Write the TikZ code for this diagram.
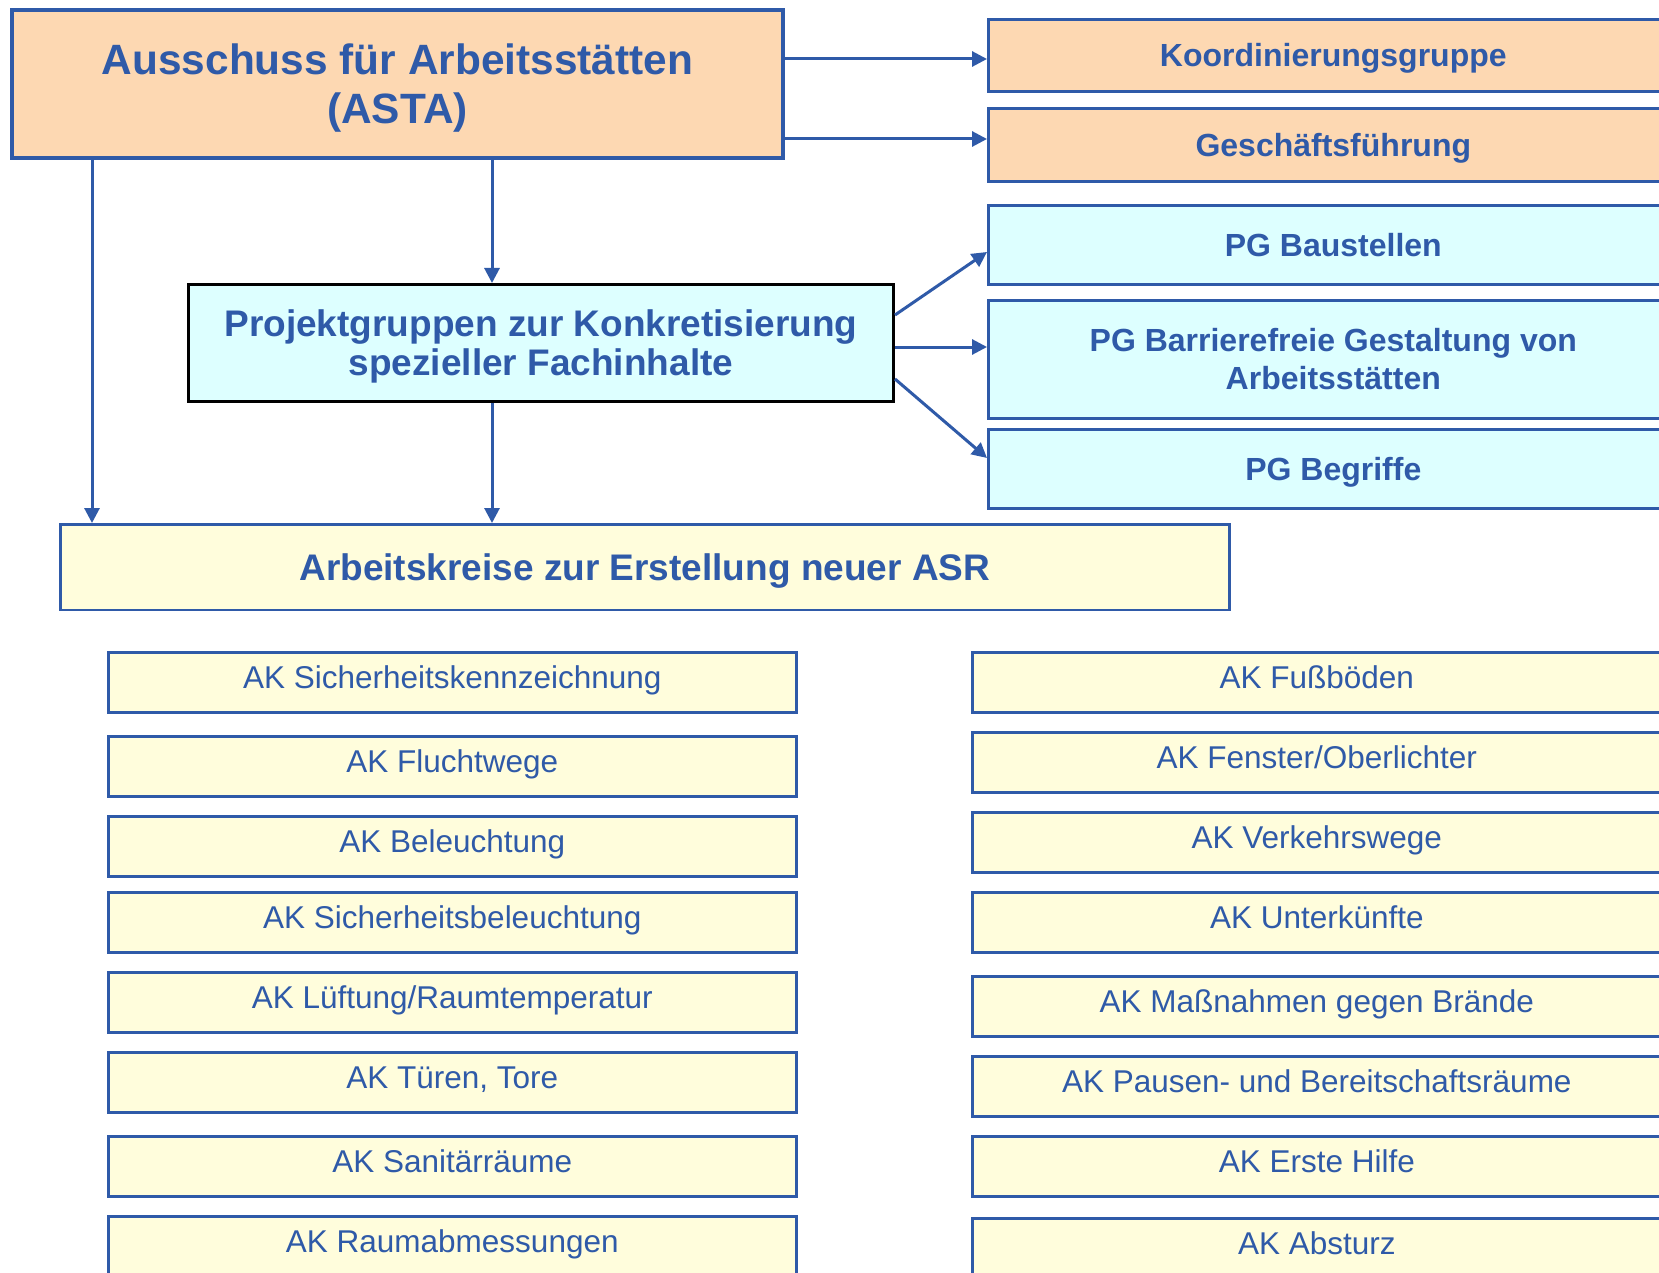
\documentclass[tikz,border=0pt]{standalone}
\usepackage{fontspec}
\setmainfont{Liberation Sans}
\usetikzlibrary{arrows.meta}
\definecolor{bl}{RGB}{47,90,168}
\definecolor{peach}{RGB}{253,216,178}
\definecolor{cyanl}{RGB}{221,255,255}
\definecolor{yel}{RGB}{255,253,220}
\tikzset{
  box/.style={draw=bl, line width=2.6pt, rectangle, inner sep=0pt, anchor=north west, text=bl, align=center},
  hdr/.style={box, font=\fontsize{32}{37.7}\selectfont\bfseries, text height=22.9pt, text depth=0pt},
  akbox/.style={box, fill=yel, minimum height=60pt, font=\fontsize{31.5}{36}\selectfont, text height=22.5pt, text depth=10.5pt},
  akl/.style={akbox, minimum width=688pt},
  akr/.style={akbox, minimum width=689pt},
  conn/.style={draw=bl, line width=3pt, -{Triangle[length=15pt,width=15pt]}}
}
\begin{document}
\begin{tikzpicture}[x=1pt,y=-1pt]
\useasboundingbox (0,0) rectangle (1659,1273);
\fill[white] (0,0) rectangle (1659,1273);
\clip (0,0) rectangle (1659,1273);

% top
\node[box, fill=peach, line width=4pt, minimum width=771pt, minimum height=148pt,
      font=\fontsize{42.4}{49}\selectfont\bfseries, text height=79.4pt, text depth=0pt]
  (asta) at (10,8) {Ausschuss für Arbeitsstätten\\(ASTA)};
\node[hdr, fill=peach, minimum width=690pt, minimum height=72.5pt] (koord) at (987,18) {Koordinierungsgruppe};
\node[hdr, fill=peach, minimum width=690pt, minimum height=73pt] (gesch) at (987,107) {Geschäftsführung};
\node[hdr, fill=cyanl, minimum width=690pt, minimum height=79pt] (pgbau) at (987,204) {PG Baustellen};
\node[hdr, fill=cyanl, minimum width=690pt, minimum height=118pt, text height=60.6pt] (pgbarr) at (987,299) {PG Barrierefreie Gestaltung von\\Arbeitsstätten};
\node[hdr, fill=cyanl, minimum width=690pt, minimum height=79pt] (pgbeg) at (987,428) {PG Begriffe};

\node[box, draw=black, line width=3pt, fill=cyanl, minimum width=705pt, minimum height=116.5pt,
      font=\fontsize{37}{38.3}\selectfont\bfseries, text height=64.8pt, text depth=0pt]
  (proj) at (187,283) {Projektgruppen zur Konkretisierung\\spezieller Fachinhalte};

\node[box, fill=yel, minimum width=1169pt, minimum height=85.5pt,
      font=\fontsize{37}{40}\selectfont\bfseries, text height=26.5pt, text depth=0pt]
  (ak) at (59,523) {Arbeitskreise zur Erstellung neuer ASR};

% AK left column
\node[akl] (l1) at (107,651) {AK Sicherheitskennzeichnung};
\node[akl] (l2) at (107,735) {AK Fluchtwege};
\node[akl] (l3) at (107,815) {AK Beleuchtung};
\node[akl] (l4) at (107,891) {AK Sicherheitsbeleuchtung};
\node[akl] (l5) at (107,971) {AK Lüftung/Raumtemperatur};
\node[akl] (l6) at (107,1051) {AK Türen, Tore};
\node[akl] (l7) at (107,1135) {AK Sanitärräume};
\node[akl] (l8) at (107,1215) {AK Raumabmessungen};

% AK right column
\node[akr] (r1) at (971,651) {AK Fußböden};
\node[akr] (r2) at (971,731) {AK Fenster/Oberlichter};
\node[akr] (r3) at (971,811) {AK Verkehrswege};
\node[akr] (r4) at (971,891) {AK Unterkünfte};
\node[akr] (r5) at (971,975) {AK Maßnahmen gegen Brände};
\node[akr] (r6) at (971,1055) {AK Pausen- und Bereitschaftsräume};
\node[akr] (r7) at (971,1135) {AK Erste Hilfe};
\node[akr] (r8) at (971,1217) {AK Absturz};

% connectors
\draw[conn] (asta.east |- 0,59) -- (koord.west |- 0,59);
\draw[conn] (asta.east |- 0,139) -- (gesch.west |- 0,139);
\draw[conn] (asta.south -| 92,0) -- (ak.north -| 92,0);
\draw[conn] (asta.south -| 492,0) -- (proj.north -| 492,0);
\draw[conn] (proj.south -| 492,0) -- (ak.north -| 492,0);
\draw[conn] (proj.east |- 0,315) -- (pgbau.west |- 0,252);
\draw[conn] (proj.east |- 0,347) -- (pgbarr.west |- 0,347);
\draw[conn] (proj.east |- 0,379) -- (pgbeg.west |- 0,458);
\end{tikzpicture}
\end{document}
